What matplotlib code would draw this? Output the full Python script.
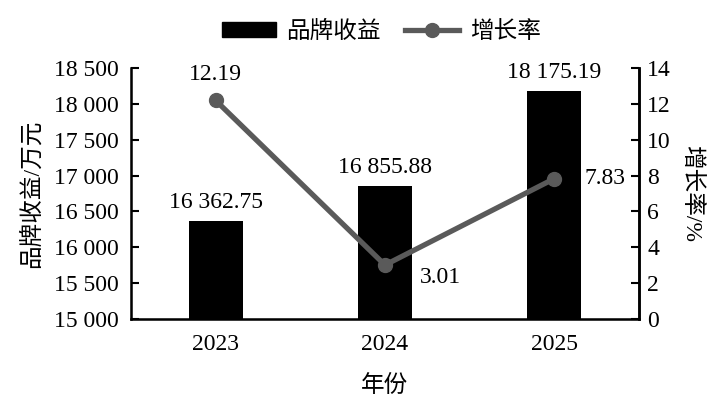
import matplotlib
matplotlib.use("Agg")
import matplotlib.pyplot as plt
from matplotlib.ticker import FuncFormatter, MultipleLocator
from matplotlib.lines import Line2D
from matplotlib.patches import Patch

plt.rcParams['font.family'] = ['Liberation Serif', 'Noto Sans CJK SC']
plt.rcParams['font.size'] = 17
plt.rcParams['axes.unicode_minus'] = False

years = ["2023", "2024", "2025"]
revenue = [16362.75, 16855.88, 18175.19]
growth = [12.19, 3.01, 7.83]
revenue_labels = ["16 362.75", "16 855.88", "18 175.19"]
growth_labels = ["12.19", "3.01", "7.83"]

FS = 17
LINE_COLOR = '#5a5a5a'

def spaced(v, pos=None):
    return f"{int(round(v)):,}".replace(",", " ")

fig = plt.figure(figsize=(7.26, 4.12), dpi=100)
L, R, T, B = 131, 639, 68, 319
ax = fig.add_axes([L/726, 1-B/412, (R-L)/726, (B-T)/412])
x = list(range(len(years)))
ax.bar(x, revenue, width=0.32, color='black', zorder=2)
ax.set_ylim(15000, 18500)
ax.set_xlim(-0.5, 2.5)
ax.yaxis.set_major_locator(MultipleLocator(500))
ax.yaxis.set_major_formatter(FuncFormatter(spaced))
ax.set_xticks(x)
ax.set_xticklabels(years)
ax.tick_params(axis='y', direction='in', length=6, width=1.5, pad=9, labelsize=FS)
ax.tick_params(axis='x', length=0, pad=11, labelsize=FS)
ax.spines['top'].set_visible(False)
for s in ['left', 'bottom', 'right']:
    ax.spines[s].set_linewidth(1.8)
ax.set_ylabel("品牌收益/万元", fontsize=FS, labelpad=8)
ax.set_xlabel("年份", fontsize=FS, labelpad=14)

for xi, v, lab in zip(x, revenue, revenue_labels):
    ax.annotate(lab, (xi, v), xytext=(0, 6), textcoords='offset points',
                ha='center', va='bottom', fontsize=FS)

ax2 = ax.twinx()
ax2.plot(x, growth, color=LINE_COLOR, lw=3.8, marker='o', ms=10, zorder=3)
ax2.set_ylim(0, 14)
ax2.yaxis.set_major_locator(MultipleLocator(2))
ax2.tick_params(axis='y', direction='in', length=6, width=1.5, pad=6, labelsize=FS)
ax2.spines['top'].set_visible(False)
ax2.spines['right'].set_linewidth(1.8)
ax2.set_ylabel("增长率/%", fontsize=FS, rotation=-90, labelpad=22)

offsets = [(0, 11, 'center', 'bottom'), (25, -9, 'left', 'center'), (22, 0, 'left', 'center')]
for xi, v, lab, (dx, dy, ha, va) in zip(x, growth, growth_labels, offsets):
    ax2.annotate(lab, (xi, v), xytext=(dx, dy), textcoords='offset points',
                 ha=ha, va=va, fontsize=FS)

handles = [Patch(facecolor='black', edgecolor='black'),
           Line2D([0], [0], color=LINE_COLOR, lw=3.8, marker='o', ms=10)]
fig.legend(handles, ["品牌收益", "增长率"], loc='center',
           bbox_to_anchor=(381/726, 1-32/412),
           ncol=2, frameon=False, fontsize=FS, handlelength=2.3, columnspacing=1.0,
           handletextpad=0.45, handleheight=0.6)

fig.savefig("out.png", dpi=100)
